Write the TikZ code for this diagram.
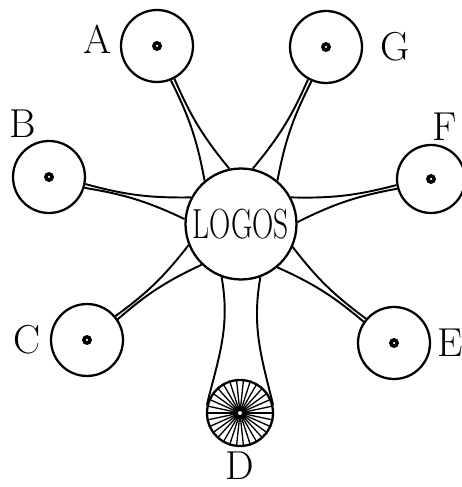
\documentclass[tikz,border=0pt]{standalone}
\usepackage{tikz}
\usetikzlibrary{positioning}

\begin{document}
\begin{tikzpicture}[
    x=0.02cm, y=0.02cm,
    orb/.style={circle, draw, line width=1.3pt, fill=white, inner sep=0pt, minimum size=1.44cm},
    hub/.style={circle, draw, line width=1.3pt, fill=white, inner sep=0pt, minimum size=2.22cm, font=\fontsize{24}{24}\selectfont},
    tag/.style={inner sep=0pt, font=\fontsize{23}{23}\selectfont},
    stem/.style={line width=1.1pt},
    spoke/.style={line width=0.75pt}
]

\useasboundingbox (0,0) rectangle (462,487);

% Centre
\node[hub] (logos) at (241,263) {\scalebox{0.7}[1]{LOGOS}};

% Outer circles
\node[orb] (A) at (157,441) {};
\node[orb] (G) at (326,440) {};
\node[orb] (B) at (49,310) {};
\node[orb, minimum size=1.36cm] (F) at (431,308) {};
\node[orb] (C) at (87,147) {};
\node[orb] (E) at (394,144) {};
\node[orb, minimum size=1.32cm] (D) at (240,74) {};

% Labels
\node[tag, left=0.16cm of A, yshift=0.14cm] (labA) {A};
\node[tag, right=0.34cm of G] (labG) {G};
\node[tag, above=0.26cm of B.north west] (labB) {B};
\node[tag] (labF) at (445,360) {F};
\node[tag, left=0.19cm of C] (labC) {C};
\node[tag, right=0.13cm of E] (labE) {E};
\node[tag, below=0.09cm of D] (labD) {D};

% Stems to the centre
\foreach \n/\s/\e/\l/\r in {A/-68/-62/130/102, G/241/247/78/50, B/343/349/175/152,
                            C/34/40/226/202, F/190/196/28/2, E/139/145/336/310} {
    \draw[stem] (\n.\s) to[bend left=8] (logos.\l);
    \draw[stem] (\n.\e) to[bend right=8] (logos.\r);
}
\draw[stem] (logos.250) to[out=280, in=76] (D.166);
\draw[stem] (logos.290) to[out=260, in=104] (D.14);

% Dots
\foreach \n in {A,G,B,F,C,E} {
    \fill (\n.center) circle (0.1cm);
    \fill[white] (\n.center) circle (0.025cm);
}

% Wheel
\foreach \a in {0,12,...,348}
    \draw[spoke] (D.center) -- (D.\a);
\fill (D.center) circle (0.13cm);
\fill[white] (D.center) circle (0.04cm);

\end{tikzpicture}
\end{document}
